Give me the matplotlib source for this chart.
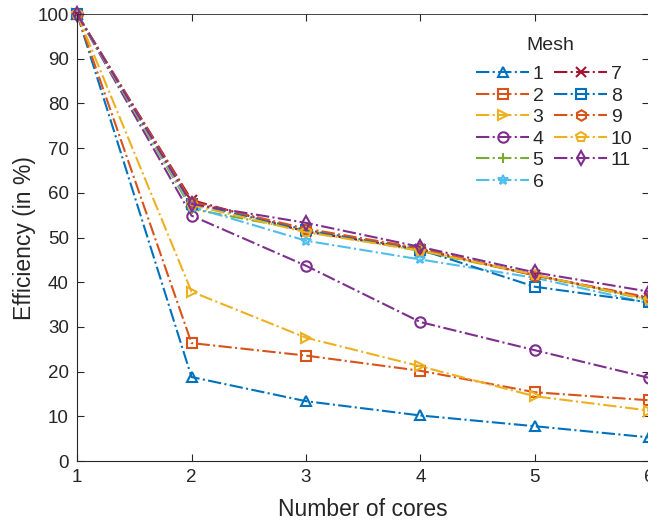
import matplotlib.pyplot as plt

plt.rcParams['font.family'] = ['Liberation Sans', 'DejaVu Sans']

cores = [1, 2, 3, 4, 5, 6]
mesh_labels = ['1', '2', '3', '4', '5', '6', '7', '8', '9', '10', '11']

eff_1 = [100, 18.8, 13.4, 10.2, 7.8, 5.3]
eff_2 = [100, 26.4, 23.6, 20.2, 15.4, 13.6]
eff_3 = [100, 37.9, 27.6, 21.2, 14.5, 11.3]
eff_4 = [100, 54.9, 43.7, 31.1, 24.8, 18.6]
eff_5 = [100, 56.4, 51.6, 47.0, 41.6, 36.0]
eff_6 = [100, 56.9, 49.3, 45.1, 41.0, 35.3]
eff_7 = [100, 58.4, 51.3, 47.4, 41.6, 36.4]
eff_8 = [100, 57.6, 51.7, 47.3, 39.0, 35.5]
eff_9 = [100, 58.0, 52.0, 47.6, 41.5, 36.6]
eff_10 = [100, 57.3, 51.2, 47.1, 41.7, 36.1]
eff_11 = [100, 57.5, 53.3, 47.9, 42.2, 37.9]

series = [eff_1, eff_2, eff_3, eff_4, eff_5, eff_6, eff_7, eff_8, eff_9, eff_10, eff_11]

# MATLAB default colour order, cycling after seven lines
colors = ['#0072BD', '#D95319', '#EDB120', '#7E2F8E', '#77AC30', '#4DBEEE', '#A2142F',
          '#0072BD', '#D95319', '#EDB120', '#7E2F8E']
markers = ['^', 's', '>', 'o', '+', '*', 'x', 's', 'h', 'p', 'd']

fig = plt.figure(figsize=(6.48, 5.21), dpi=100)
ax = fig.add_axes([0.119, 0.115, 0.883, 0.858])

for vals, lab, c, m in zip(series, mesh_labels, colors, markers):
    ax.plot(cores, vals, linestyle='-.', color=c, lw=1.5, marker=m, markersize=7.5,
            markerfacecolor='none', markeredgecolor=c, markeredgewidth=1.5,
            label=lab, clip_on=False)

ax.set_xlim(1, 6)
ax.set_ylim(0, 100)
ax.set_xticks(cores)
ax.set_yticks(range(0, 101, 10))
ax.tick_params(direction='in', length=5, width=0.8, top=True, right=True,
               labelsize=13.5, colors='#262626', pad=6)
for side in ['left', 'bottom']:
    ax.spines[side].set_color('#262626')
    ax.spines[side].set_linewidth(0.8)
for side in ['top', 'right']:
    ax.spines[side].set_color('#262626')
    ax.spines[side].set_linewidth(0.6)

ax.set_xlabel('Number of cores', fontsize=16.5, color='#262626', labelpad=8.5)
ax.set_ylabel('Efficiency (in %)', fontsize=16.5, color='#262626', labelpad=1)

# legend body without a title; the title is placed on its own above it
leg = ax.legend(ncol=2, frameon=False, fontsize=14,
                handlelength=2.7, columnspacing=0.55, handletextpad=0.2,
                labelspacing=0.2, borderpad=0.4, loc='upper left',
                bbox_to_anchor=(0.708, 0.908), bbox_transform=fig.transFigure)
for t in leg.get_texts():
    t.set_color('#262626')
fig.text(0.850, 0.912, 'Mesh', fontsize=14, color='#262626', ha='center', va='center')

fig.savefig('out.png', dpi=100)
